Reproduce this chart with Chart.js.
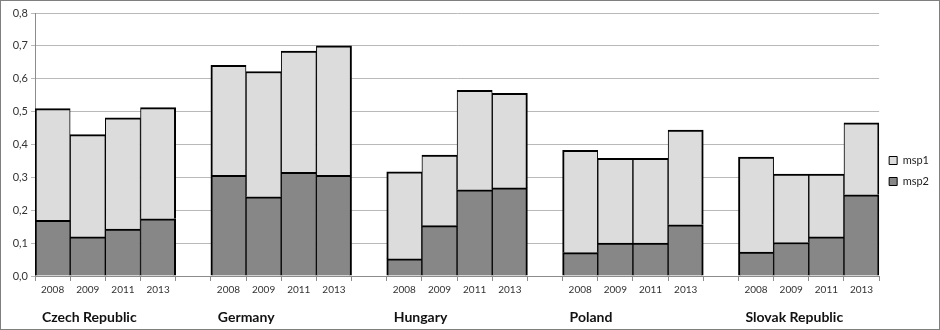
<!DOCTYPE html>
<html>
<head>
<meta charset="utf-8">
<script src="https://cdn.jsdelivr.net/npm/chart.js@4"></script>
<style>
  html, body { margin: 0; padding: 0; background: #fff; }
  #wrap { width: 940px; height: 330px; box-sizing: border-box; border: 1px solid #7f7f7f; }
  canvas { display: block; }
</style>
</head>
<body>
<div id="wrap"><canvas id="chart" width="938" height="328"></canvas></div>
<script>
// ===== DATA =====
const countries = ['Czech Republic', 'Germany', 'Hungary', 'Poland', 'Slovak Republic'];
const years = ['2008', '2009', '2011', '2013'];

// lower (dark) segment
const msp2 = [
  0.169, 0.119, 0.143, 0.174,   // Czech Republic
  0.306, 0.241, 0.315, 0.306,   // Germany
  0.052, 0.153, 0.262, 0.268,   // Hungary
  0.071, 0.100, 0.100, 0.156,   // Poland
  0.073, 0.102, 0.119, 0.247    // Slovak Republic
];
// upper (light) segment
const msp1 = [
  0.340, 0.311, 0.338, 0.338,
  0.335, 0.381, 0.369, 0.394,
  0.265, 0.215, 0.303, 0.288,
  0.311, 0.258, 0.258, 0.288,
  0.289, 0.208, 0.191, 0.219
];

const yMax = 0.8;
const yStep = 0.1;

const FONT = 'Lato, "Open Sans", sans-serif';

// one empty category between the country groups
function withGaps(values) {
  const out = [];
  countries.forEach((c, i) => {
    years.forEach((y, j) => out.push(values ? values[i * years.length + j] : y));
    if (i < countries.length - 1) out.push(values ? null : '');
  });
  return out;
}

const labels = withGaps(null);

const countryLabels = {
  id: 'countryLabels',
  afterDraw(chart) {
    const x = chart.scales.x;
    const ctx = chart.ctx;
    const half = (x.getPixelForValue(1) - x.getPixelForValue(0)) / 2;
    ctx.save();
    ctx.font = 'bold 14px ' + FONT;
    ctx.fillStyle = '#111';
    ctx.textBaseline = 'middle';
    ctx.textAlign = 'left';
    countries.forEach((c, i) => {
      const first = i * (years.length + 1);
      ctx.fillText(c, x.getPixelForValue(first) - half + 7, x.bottom - 12);
    });
    ctx.restore();
  }
};

// shared edges get 1px from each neighbour, outer edges of a group get 2px
const barBorder = ctx => {
  const i = ctx.dataIndex;
  const outerLeft = i === 0 || labels[i - 1] === '';
  const outerRight = i === labels.length - 1 || labels[i + 1] === '';
  return { top: 2, bottom: 0, left: outerLeft ? 2 : 1, right: outerRight ? 2 : 1 };
};

new Chart(document.getElementById('chart').getContext('2d'), {
  type: 'bar',
  data: {
    labels: labels,
    datasets: [
      {
        label: 'msp2',
        data: withGaps(msp2),
        backgroundColor: '#878787',
        borderColor: '#000',
        borderWidth: barBorder,
        borderSkipped: false,
        barPercentage: 1,
        categoryPercentage: 1
      },
      {
        label: 'msp1',
        data: withGaps(msp1),
        backgroundColor: '#dcdcdc',
        borderColor: '#000',
        borderWidth: barBorder,
        borderSkipped: false,
        barPercentage: 1,
        categoryPercentage: 1
      }
    ]
  },
  options: {
    responsive: false,
    animation: false,
    layout: { padding: { top: 12, right: 0, bottom: 0, left: 0 } },
    plugins: {
      tooltip: { enabled: false },
      legend: {
        position: 'right',
        reverse: true,
        labels: {
          boxWidth: 8,
          boxHeight: 8,
          padding: 10,
          color: '#222',
          font: { family: FONT, size: 11 },
          generateLabels: chart => Chart.defaults.plugins.legend.labels.generateLabels(chart)
            .map(l => Object.assign(l, { lineWidth: 1 }))
        }
      }
    },
    scales: {
      x: {
        stacked: true,
        afterFit: s => { s.height = 53; },
        grid: { drawOnChartArea: false, drawTicks: true, tickLength: 5, color: '#8c8c8c', offset: true },
        border: { color: '#8c8c8c' },
        ticks: { autoSkip: false, maxRotation: 0, padding: 3, color: '#333', font: { family: FONT, size: 10 } }
      },
      y: {
        stacked: true,
        min: 0,
        max: yMax,
        afterFit: s => { s.width = 34; },
        grid: { color: '#b9b9b9', tickLength: 4 },
        border: { color: '#8c8c8c' },
        ticks: {
          stepSize: yStep,
          padding: 3,
          color: '#333',
          font: { family: FONT, size: 11 },
          callback: v => v.toFixed(1).replace('.', ',')
        }
      }
    }
  },
  plugins: [countryLabels]
});
</script>
</body>
</html>
